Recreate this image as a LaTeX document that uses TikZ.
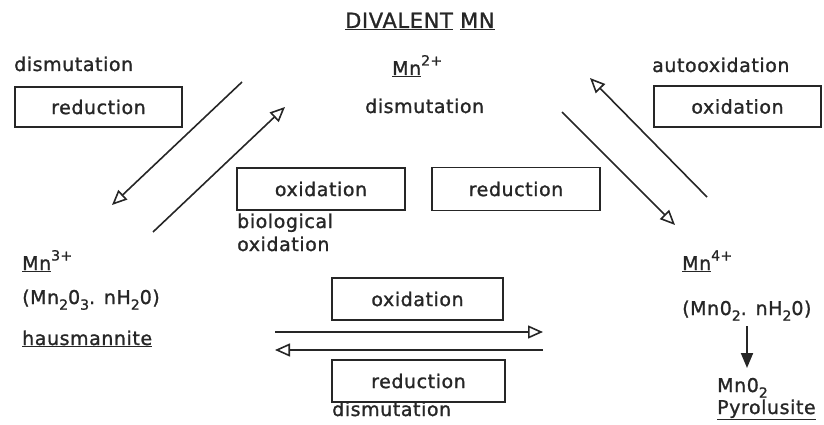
\documentclass[tikz,border=0pt]{standalone}
\usepackage{fontspec}
\setmainfont[LetterSpace=3,FakeBold=1.2]{DejaVu Sans}
\usetikzlibrary{arrows.meta}
\newcommand\sbs[1]{\raisebox{-0.3em}{\fontsize{14}{14}\selectfont #1}}
\newcommand\sps[1]{\raisebox{0.5em}{\fontsize{14}{14}\selectfont #1}}
\tikzset{
  lbl/.style={inner sep=0pt, anchor=base west, font=\fontsize{19}{22}\selectfont, text=black!85},
  labelbox/.style={draw=black!85, line width=1.6pt, inner sep=0pt, font=\fontsize{19}{22}\selectfont, text=black!85},
  hollowarrow/.style={draw=black!85, line width=1.6pt, -{Triangle[open, length=15pt, width=13pt, line width=1.6pt]}},
  fullarrow/.style={draw=black!85, line width=2pt, -{Triangle[length=15pt, width=12pt]}}
}
\begin{document}
\begin{tikzpicture}[x=1pt, y=-1pt]
\useasboundingbox (0,0) rectangle (824,425);
% boxes
\node[labelbox, minimum width=167pt, minimum height=40pt] (b1) at (98.5,107) {reduction};
\node[labelbox, minimum width=167pt, minimum height=41pt] (b2) at (737.5,106.5) {oxidation};
\node[labelbox, minimum width=168pt, minimum height=42pt] (b3) at (321,189) {oxidation};
\node[labelbox, minimum width=168pt, minimum height=43pt] (b4) at (516,189) {reduction};
\node[labelbox, minimum width=171pt, minimum height=42pt] (b5) at (417.5,299) {oxidation};
\node[labelbox, minimum width=173pt, minimum height=42pt] (b6) at (418.5,381) {reduction};
% texts
\node[lbl, font=\fontsize{21}{24}\selectfont] (title) at (345,28) {\underline{DIVALENT} \underline{MN}};
\node[lbl] (dis1) at (14,71) {dismutation};
\node[lbl] (mn2) at (392,75) {\underline{Mn}\sps{2+}};
\node[lbl] (dis2) at (365,113) {dismutation};
\node[lbl] (auto) at (652,72) {autooxidation};
\node[lbl] (bio) at (237,228) {biological};
\node[lbl] (bioox) at (237,251) {oxidation};
\node[lbl] (mn3) at (22,270) {\underline{Mn}\sps{3+}};
\node[lbl] (mn3f) at (22,304) {(Mn\sbs{2}0\sbs{3}. nH\sbs{2}0)};
\node[lbl] (haus) at (22,345) {\underline{hausmannite}};
\node[lbl] (dis3) at (332,416) {dismutation};
\node[lbl] (mn4) at (682,270) {\underline{Mn}\sps{4+}};
\node[lbl] (mn4f) at (682,315) {(Mn0\sbs{2}. nH\sbs{2}0)};
\node[lbl] (mno2) at (717,392) {Mn0\sbs{2}};
\node[lbl] (pyro) at (717,414) {\underline{Pyrolusite}};
% arrow end points
\coordinate (a1s) at (242,82);  \coordinate (a1e) at (112,205);
\coordinate (a2s) at (153,232); \coordinate (a2e) at (285,107);
\coordinate (a3s) at (707,197); \coordinate (a3e) at (590,78);
\coordinate (a4s) at (562,112); \coordinate (a4e) at (675,225);
\coordinate (a5s) at (275,332); \coordinate (a5e) at (543,332);
\coordinate (a6s) at (543,350); \coordinate (a6e) at (275,350);
\coordinate (a7s) at (747,326); \coordinate (a7e) at (747,368);
\draw[hollowarrow] (a1s) -- (a1e);
\draw[hollowarrow] (a2s) -- (a2e);
\draw[hollowarrow] (a3s) -- (a3e);
\draw[hollowarrow] (a4s) -- (a4e);
\draw[hollowarrow] (a5s) -- (a5e);
\draw[hollowarrow] (a6s) -- (a6e);
\draw[fullarrow] (a7s) -- (a7e);
\end{tikzpicture}
\end{document}
